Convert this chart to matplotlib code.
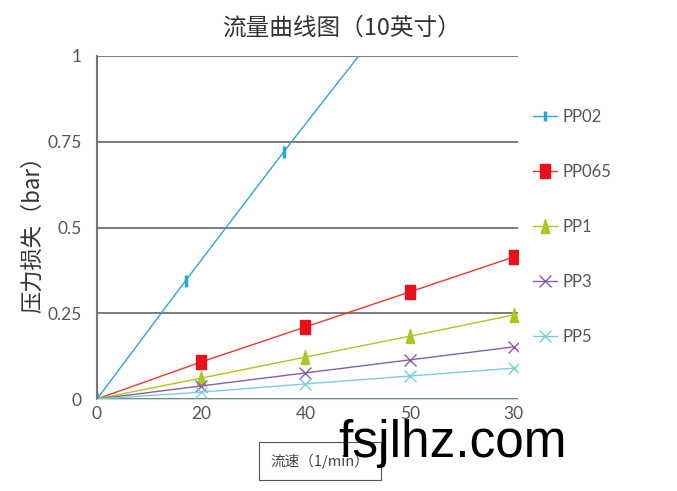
import matplotlib.pyplot as plt
import matplotlib.lines as mlines

plt.rcParams['font.family'] = ['Noto Sans CJK SC', 'DejaVu Sans']

# category ticks (equal spacing, labels as printed in the chart)
tick_pos = [0, 1, 2, 3, 4]
tick_labels = ['0', '20', '40', '50', '30']

# series values
pp02_x = [0, 0.85, 1.79, 3.0]
pp02_y = [0, 0.345, 0.72, 1.19]
pos = [0, 1, 2, 3, 4]
pp065 = [0, 0.108, 0.210, 0.312, 0.414]
pp1 = [0, 0.061, 0.122, 0.183, 0.245]
pp3 = [0, 0.038, 0.076, 0.114, 0.152]
pp5 = [0, 0.020, 0.044, 0.067, 0.090]

names = ['PP02', 'PP065', 'PP1', 'PP3', 'PP5']

rect = [(-0.35, -0.5), (0.35, -0.5), (0.35, 0.5), (-0.35, 0.5), (-0.35, -0.5)]
tri = [(-0.3, -0.5), (0.3, -0.5), (0, 0.5), (-0.3, -0.5)]

num_font = ['Lato', 'DejaVu Sans']

fig = plt.figure(figsize=(6.77, 4.91), dpi=100)
ax = fig.add_axes([97 / 677, 1 - 399 / 491, 421 / 677, 343 / 491])

ax.plot(pp02_x, pp02_y, color='#2aa6dc', lw=1, marker='|', ms=8, mew=2.5)
ax.plot(pos, pp065, color='#e83a2a', lw=1)
ax.plot(pos[1:], pp065[1:], ls='none', color='#e8101c', marker=rect, ms=10)
ax.plot(pos, pp1, color='#a8c81e', lw=1, marker=tri, ms=10, markevery=[1, 2, 3, 4])
ax.plot(pos, pp3, color='#8a5ca8', lw=1, marker='x', ms=9, mew=1, markevery=[1, 2, 3, 4])
ax.plot(pos, pp5, color='#7ccce0', lw=1, marker='x', ms=9, mew=1, markevery=[1, 2, 3, 4])

ax.set_xlim(0, 4.04)
ax.set_ylim(0, 1)
ax.set_xticks(tick_pos)
ax.set_xticklabels(tick_labels, family=num_font)
ax.set_yticks([0, 0.25, 0.5, 0.75, 1])
ax.set_yticklabels(['0', '0.25', '0.5', '0.75', '1'], family=num_font)
ax.tick_params(length=0, labelsize=12.5, colors='#555555')
ax.tick_params(axis='y', pad=11)
ax.tick_params(axis='x', pad=5)
ax.grid(axis='y', color='#666666', lw=1.2)
ax.set_axisbelow(True)
for s in ['top', 'right']:
    ax.spines[s].set_visible(False)
ax.spines['left'].set_color('#777777')
ax.spines['left'].set_linewidth(1.5)
ax.spines['bottom'].set_color('#bfe3cf')

handles = [
    mlines.Line2D([], [], color='#2aa6dc', lw=1, marker='|', ms=7, mew=2.5),
    mlines.Line2D([], [], color='#e83a2a', lw=1, marker=rect, ms=10, mfc='#e8101c', mec='#e8101c'),
    mlines.Line2D([], [], color='#a8c81e', lw=1, marker=tri, ms=10),
    mlines.Line2D([], [], color='#8a5ca8', lw=1, marker='x', ms=8),
    mlines.Line2D([], [], color='#7ccce0', lw=1, marker='x', ms=8),
]
leg = fig.legend(handles, names,
                 loc='upper left', bbox_to_anchor=(525 / 677, 1 - 101 / 491),
                 frameon=False, labelspacing=2.33,
                 handlelength=1.4, handletextpad=0.35, borderpad=0,
                 prop={'family': num_font, 'size': 12})
for t in leg.get_texts():
    t.set_color('#555555')

fig.text(341 / 677, 1 - 28 / 491, '流量曲线图（10英寸）', ha='center', va='center',
         fontsize=17, color='#333333')
fig.text(33 / 677, 1 - 229 / 491, '压力损失（bar）', ha='center', va='center',
         rotation=90, fontsize=16, color='#333333')
fig.text(320 / 677, 1 - 461 / 491, '流速（1/min）', ha='center', va='center',
         fontsize=10.5, color='#444444',
         bbox=dict(boxstyle='square,pad=0.8', fc='white', ec='#555555', lw=0.8))
fig.text(453 / 677, 1 - 444 / 491, 'fsjlhz.com', ha='center', va='center',
         fontsize=37, color='black', family=['Liberation Sans', 'DejaVu Sans'])

fig.savefig('out.png', dpi=100)
